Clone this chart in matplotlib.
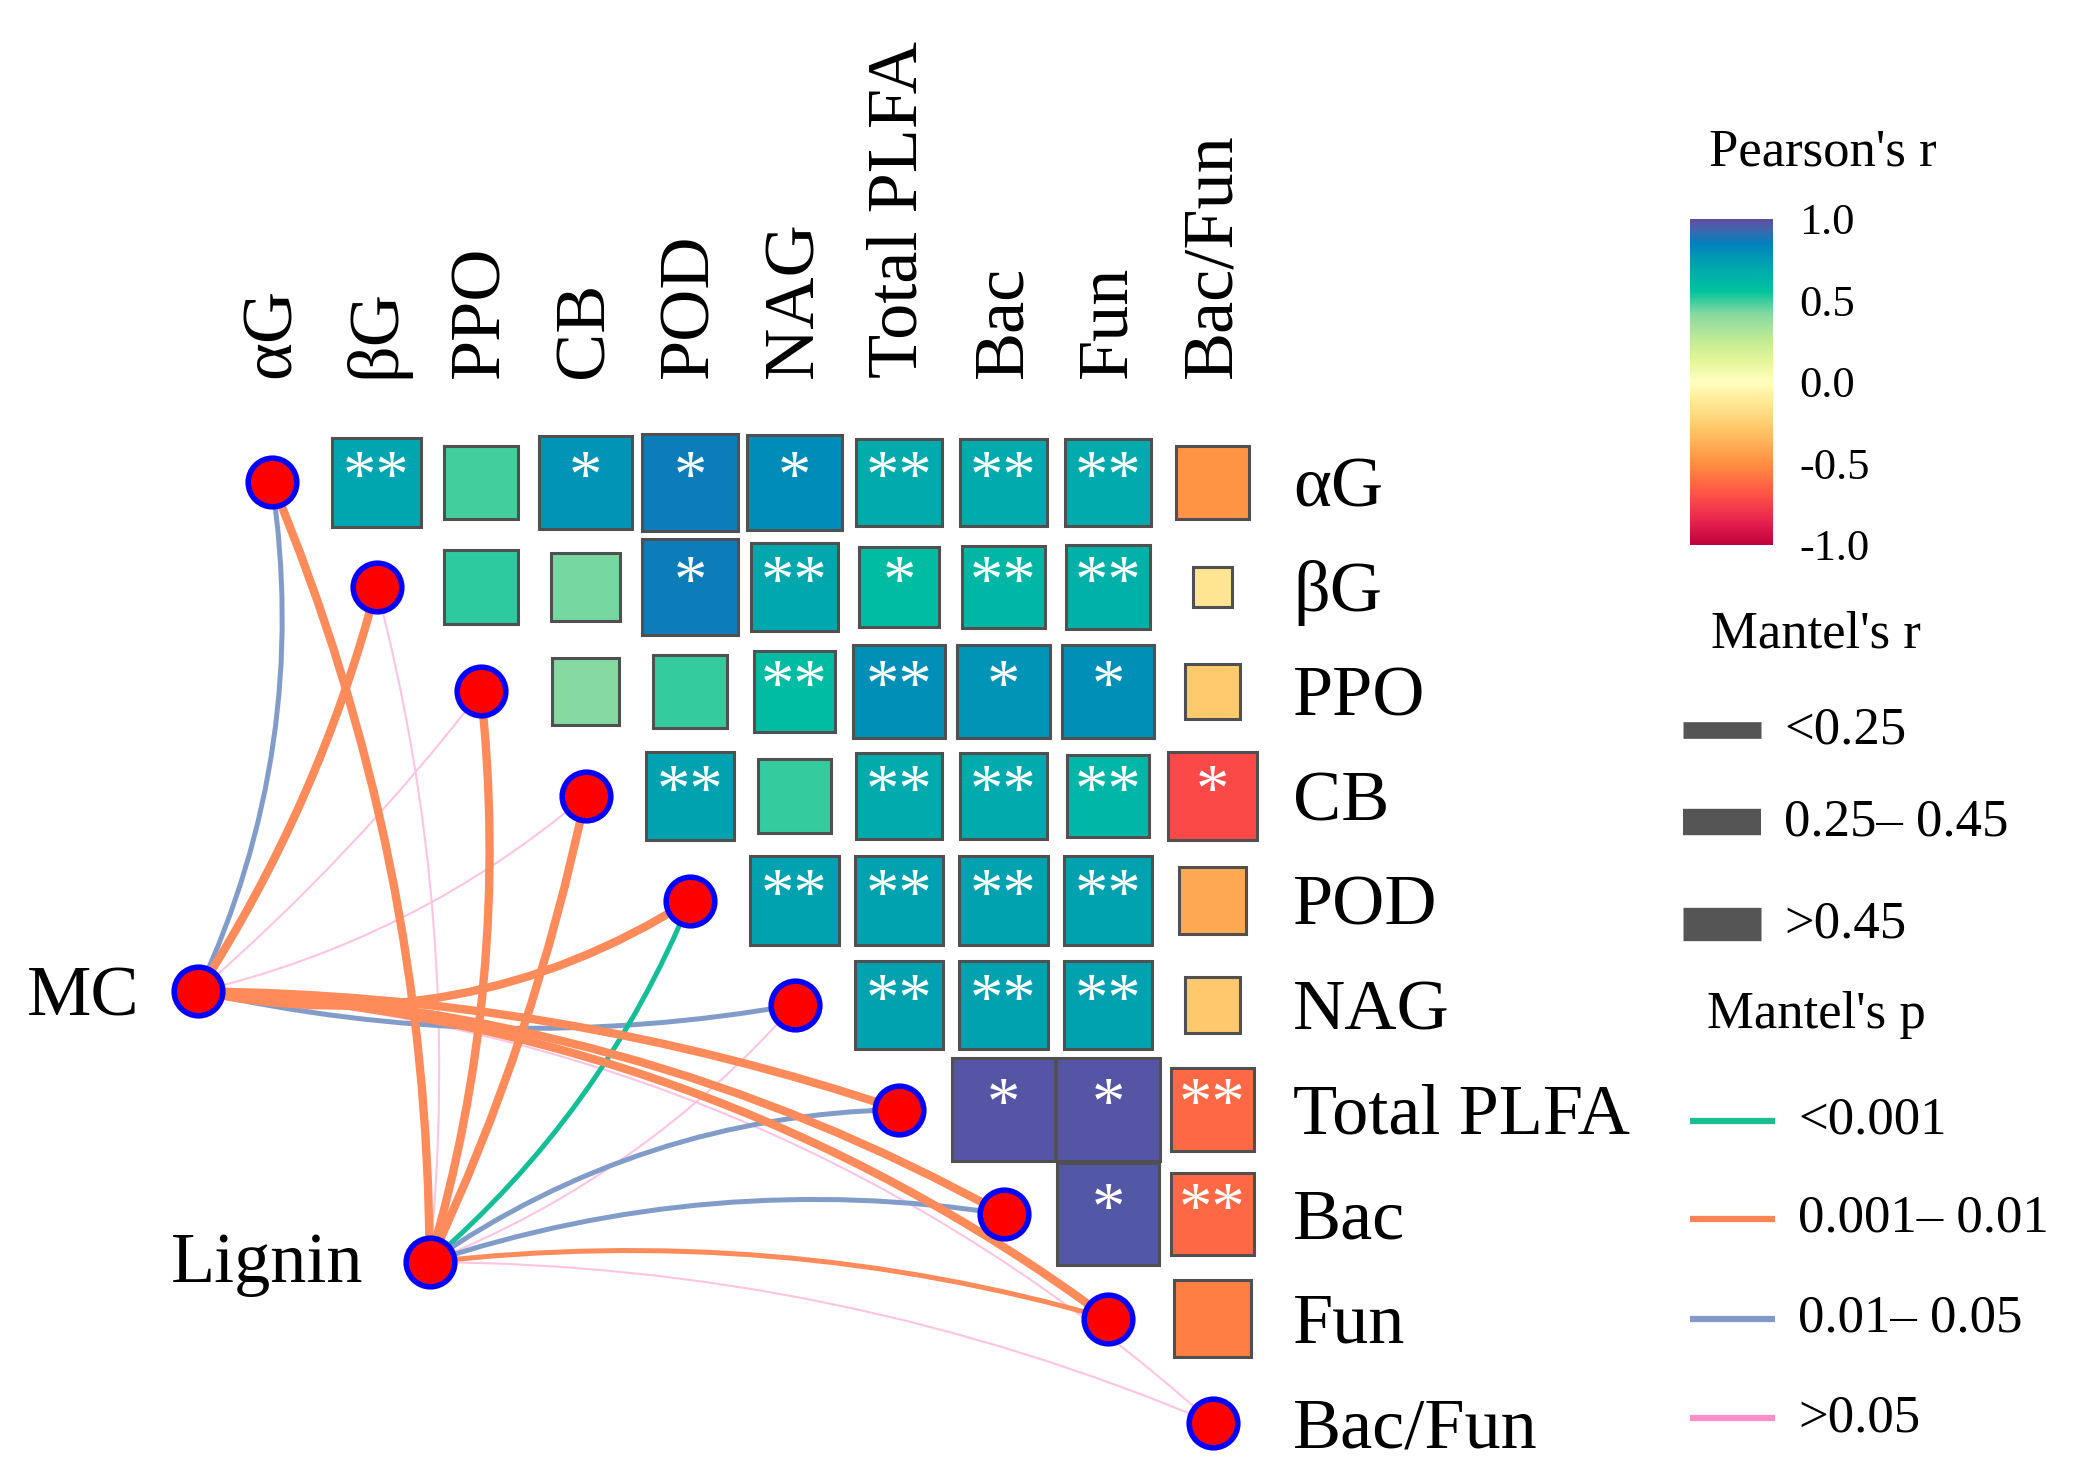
import numpy as np
import matplotlib
matplotlib.use("Agg")
import matplotlib.pyplot as plt
from matplotlib.colors import LinearSegmentedColormap, Normalize
from matplotlib.cm import ScalarMappable
from matplotlib.patches import Rectangle, PathPatch
from matplotlib.path import Path

plt.rcParams['font.family'] = ['Liberation Serif', 'DejaVu Serif']
plt.rcParams['axes.unicode_minus'] = False

# variables of the correlation triangle
labels = ['αG', 'βG', 'PPO', 'CB', 'POD', 'NAG', 'Total PLFA', 'Bac', 'Fun', 'Bac/Fun']

# Pearson's r, upper triangle, row i holds columns i+1 .. 9
r_ag = [0.71, 0.49, 0.78, 0.86, 0.81, 0.69, 0.69, 0.69, -0.48]
r_bg = [0.51, 0.43, 0.86, 0.70, 0.60, 0.62, 0.65, -0.14]
r_ppo = [0.42, 0.50, 0.60, 0.79, 0.78, 0.79, -0.27]
r_cb = [0.72, 0.50, 0.69, 0.69, 0.63, -0.72]
r_pod = [0.72, 0.72, 0.72, 0.72, -0.40]
r_nag = [0.72, 0.72, 0.72, -0.28]
r_tplfa = [0.98, 0.98, -0.62]
r_bac = [0.97, -0.62]
r_fun = [-0.55]

# significance marks, same layout
s_ag = ['**', '', '*', '*', '*', '**', '**', '**', '']
s_bg = ['', '', '*', '**', '*', '**', '**', '']
s_ppo = ['', '', '**', '**', '*', '*', '']
s_cb = ['**', '', '**', '**', '**', '*']
s_pod = ['**', '**', '**', '**', '']
s_nag = ['**', '**', '**', '']
s_tplfa = ['*', '*', '**']
s_bac = ['*', '**']
s_fun = ['']

r_rows = [r_ag, r_bg, r_ppo, r_cb, r_pod, r_nag, r_tplfa, r_bac, r_fun]
s_rows = [s_ag, s_bg, s_ppo, s_cb, s_pod, s_nag, s_tplfa, s_bac, s_fun]

# Mantel test classes for each environmental factor vs the 10 variables
env_names = ['MC', 'Lignin']
mc_r_class = ['0.25– 0.45', '>0.45', '<0.25', '<0.25', '>0.45',
              '0.25– 0.45', '>0.45', '>0.45', '>0.45', '<0.25']
mc_p_class = ['0.01– 0.05', '0.001– 0.01', '>0.05', '>0.05', '0.001– 0.01',
              '0.01– 0.05', '0.001– 0.01', '0.001– 0.01', '0.001– 0.01', '>0.05']
lig_r_class = ['>0.45', '<0.25', '>0.45', '>0.45', '0.25– 0.45',
               '<0.25', '0.25– 0.45', '0.25– 0.45', '0.25– 0.45', '<0.25']
lig_p_class = ['0.001– 0.01', '>0.05', '0.001– 0.01', '0.001– 0.01', '<0.001',
               '>0.05', '0.01– 0.05', '0.01– 0.05', '0.001– 0.01', '>0.05']

r_classes = ['<0.25', '0.25– 0.45', '>0.45']
p_classes = ['<0.001', '0.001– 0.01', '0.01– 0.05', '>0.05']

# styles
edge_width = {'<0.25': 1.5, '0.25– 0.45': 3.6, '>0.45': 6.0}
legend_bar_width = {'<0.25': 12, '0.25– 0.45': 19, '>0.45': 24}
p_color = {'<0.001': '#1ABF8F', '0.001– 0.01': '#FC8452',
           '0.01– 0.05': '#8399C9', '>0.05': '#FF8DC8'}
edge_color = {'<0.001': '#14BE96', '0.001– 0.01': '#FF8A5A',
              '0.01– 0.05': '#829CCA', '>0.05': '#FFC4E2'}
env_pos = {'MC': (-0.705, 4.87), 'Lignin': (1.508, 7.46)}
mc_rad = [0.15, 0.08, 0.05, 0.12, 0.2, 0.1, -0.08, -0.12, -0.15, -0.17]
lig_rad = [0.1, 0.09, 0.1, 0.06, 0.12, 0.12, -0.15, -0.12, -0.1, -0.1]

cmap = LinearSegmentedColormap.from_list('pearson', [
    (0.0, '#C0003C'), (0.075, '#E8254F'), (0.15, '#FF5046'), (0.25, '#FF8F42'),
    (0.35, '#FFC466'), (0.44, '#FFE996'), (0.5, '#FFFFBF'), (0.56, '#E6F69A'),
    (0.625, '#C4EC94'), (0.71, '#86D9A0'), (0.78, '#00C39D'), (0.85, '#00A9AE'),
    (0.925, '#0082BC'), (0.965, '#3B69AE'), (1.0, '#5E4FA2')])
norm = Normalize(-1, 1)

W, H = 2073, 1475
pitch, x0, y0 = 104.5, 272, 482.5

fig = plt.figure(figsize=(W / 100, H / 100), dpi=100)
ax = fig.add_axes([0, 0, 1, 1])
ax.set_xlim(-x0 / pitch, (W - x0) / pitch)
ax.set_ylim((H - y0) / pitch, -y0 / pitch)
ax.axis('off')

# squares
for i, (rr, ss) in enumerate(zip(r_rows, s_rows)):
    for k, (r, s) in enumerate(zip(rr, ss)):
        j = i + 1 + k
        side = np.sqrt(abs(r))
        ax.add_patch(Rectangle((j - side / 2, i - side / 2), side, side,
                               facecolor=cmap(norm(r)), edgecolor='#505050',
                               linewidth=2.2, zorder=2))
        if s:
            ax.text(j, i + 0.13, s, color='white', fontsize=48,
                    ha='center', va='baseline', zorder=3)


def draw_edge(p0, p1, rad, color, lw):
    d = np.array(p1) - np.array(p0)
    mid = (np.array(p0) + np.array(p1)) / 2
    ctrl = mid + rad * np.array([-d[1], d[0]])
    path = Path([p0, ctrl, p1], [Path.MOVETO, Path.CURVE3, Path.CURVE3])
    ax.add_patch(PathPatch(path, facecolor='none', edgecolor=color,
                           linewidth=lw, capstyle='butt', zorder=1))


# thin lines first so the strong ones sit on top
order = {'<0.25': 0, '0.25– 0.45': 1, '>0.45': 2}
edges = []
for env, rcl, pcl, rads in [('MC', mc_r_class, mc_p_class, mc_rad),
                            ('Lignin', lig_r_class, lig_p_class, lig_rad)]:
    for j in range(len(labels)):
        edges.append((order[rcl[j]], env, j, rads[j], pcl[j], rcl[j]))
for _, env, j, rad, pc, rc in sorted(edges, key=lambda e: e[0]):
    draw_edge(env_pos[env], (j, j), rad, edge_color[pc], edge_width[rc])

# nodes
diag = np.arange(len(labels))
ax.scatter(diag, diag, s=35 ** 2, facecolor='#FF0000', edgecolor='#0000FF',
           linewidth=4, zorder=4)
ax.scatter([env_pos[e][0] for e in env_names], [env_pos[e][1] for e in env_names],
           s=35 ** 2, facecolor='#FF0000', edgecolor='#0000FF', linewidth=4, zorder=4)

# labels
for j, lab in enumerate(labels):
    ax.text(j, -1.0, lab, rotation=90, ha='center', va='bottom', fontsize=52)
    ax.text(9.77, j + 0.23, lab, ha='left', va='baseline', fontsize=52)
ax.text(env_pos['MC'][0] - 0.56, env_pos['MC'][1] + 0.23, 'MC',
        ha='right', va='baseline', fontsize=52)
ax.text(env_pos['Lignin'][0] - 0.63, env_pos['Lignin'][1] + 0.19, 'Lignin',
        ha='right', va='baseline', fontsize=52)

# colour bar
cax = fig.add_axes([1690 / W, 1 - 545 / H, 83 / W, 326 / H])
cb = fig.colorbar(ScalarMappable(norm=norm, cmap=cmap), cax=cax)
cb.set_ticks([-1, -0.5, 0, 0.5, 1])
cb.set_ticklabels(['-1.0', '-0.5', '0.0', '0.5', '1.0'])
cb.outline.set_visible(False)
cax.tick_params(length=0, pad=19, labelsize=32)
fig.text(1823 / W, 1 - 152 / H, "Pearson's r", ha='center', va='center', fontsize=38)

# Mantel legends drawn in pixel space
lax = fig.add_axes([0, 0, 1, 1])
lax.set_xlim(0, W)
lax.set_ylim(H, 0)
lax.axis('off')

lax.text(1816, 635, "Mantel's r", ha='center', va='center', fontsize=38)
for cls, y in zip(r_classes, [730, 822, 924]):
    lax.plot([1683, 1761], [y, y], color='#555555', linewidth=legend_bar_width[cls],
             solid_capstyle='butt')
    lax.text(1784, y, cls, ha='left', va='center', fontsize=38)

lax.text(1816, 1015, "Mantel's p", ha='center', va='center', fontsize=38)
for cls, y in zip(p_classes, [1121, 1219, 1319, 1418]):
    lax.plot([1690, 1775], [y, y], color=p_color[cls], linewidth=4.5,
             solid_capstyle='butt')
    lax.text(1798, y, cls, ha='left', va='center', fontsize=38)

fig.savefig('out.png', dpi=100)
